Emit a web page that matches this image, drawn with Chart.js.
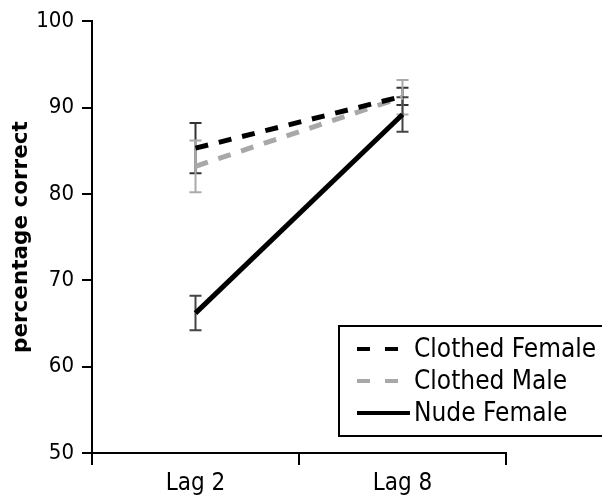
<!DOCTYPE html>
<html>
<head>
<meta charset="utf-8">
<script src="https://cdn.jsdelivr.net/npm/chart.js@4.4.0/dist/chart.umd.min.js"></script>
<style>
html, body { margin: 0; padding: 0; background: #fff; }
#wrap { width: 602px; height: 500px; }
</style>
</head>
<body>
<div id="wrap"><canvas id="myChart"></canvas></div>
<script>
var lags = ["Lag 2", "Lag 8"];
var clothedFemale = [85.3, 91.3];
var clothedMale = [83.2, 91.2];
var nudeFemale = [66.2, 89.2];
// half length of the error bars
var clothedFemaleErr = [2.9, 1.0];
var clothedMaleErr = [3.0, 2.0];
var nudeFemaleErr = [2.0, 2.0];
var yTicks = [50, 60, 70, 80, 90, 100];

var font = "'DejaVu Sans Condensed', 'Open Sans', sans-serif";
var titleFont = "'DejaVu Sans', Verdana, sans-serif";

var errorBars = {
	id: 'errorBars',
	beforeDatasetsDraw: function(chart) {
		var ctx = chart.ctx;
		var yScale = chart.scales.y;
		chart.data.datasets.forEach(function(ds, i) {
			var meta = chart.getDatasetMeta(i);
			ctx.save();
			ctx.strokeStyle = ds.errColor;
			ctx.lineWidth = 2;
			meta.data.forEach(function(pt, j) {
				var x = pt.x;
				var top = yScale.getPixelForValue(ds.data[j] + ds.err[j]);
				var bot = yScale.getPixelForValue(ds.data[j] - ds.err[j]);
				ctx.beginPath();
				ctx.moveTo(x, top); ctx.lineTo(x, bot);
				ctx.moveTo(x - 6, top); ctx.lineTo(x + 6, top);
				ctx.moveTo(x - 6, bot); ctx.lineTo(x + 6, bot);
				ctx.stroke();
			});
			ctx.restore();
		});
	}
};

var boxLegend = {
	id: 'boxLegend',
	afterDraw: function(chart) {
		var ctx = chart.ctx;
		ctx.save();
		ctx.strokeStyle = '#000';
		ctx.lineWidth = 2;
		ctx.strokeRect(339, 326, 270, 110);
		ctx.font = '26px ' + font;
		ctx.textBaseline = 'middle';
		chart.data.datasets.forEach(function(ds, i) {
			var y = 349 + i * 32;
			ctx.beginPath();
			ctx.strokeStyle = ds.borderColor;
			ctx.lineWidth = 4;
			ctx.setLineDash(ds.borderDash ? [13, 15] : []);
			ctx.moveTo(357, y);
			ctx.lineTo(410, y);
			ctx.stroke();
			ctx.setLineDash([]);
			ctx.fillStyle = '#000';
			ctx.fillText(ds.label, 414, y + 1);
		});
		ctx.restore();
	}
};

new Chart(document.getElementById('myChart'), {
	type: 'line',
	data: {
		labels: lags,
		datasets: [{
			label: "Clothed Female",
			data: clothedFemale,
			err: clothedFemaleErr,
			errColor: '#333',
			borderColor: '#000',
			borderWidth: 5,
			borderDash: [13, 11],
			pointRadius: 0
		}, {
			label: "Clothed Male",
			data: clothedMale,
			err: clothedMaleErr,
			errColor: '#aaa',
			borderColor: '#a8a8a8',
			borderWidth: 5,
			borderDash: [13, 11],
			pointRadius: 0
		}, {
			label: "Nude Female",
			data: nudeFemale,
			err: nudeFemaleErr,
			errColor: '#444',
			borderColor: '#000',
			borderWidth: 5,
			pointRadius: 0
		}]
	},
	options: {
		responsive: true,
		maintainAspectRatio: false,
		animation: false,
		layout: { padding: { left: 9, top: 17, right: 96, bottom: 0 } },
		plugins: { legend: { display: false }, tooltip: { enabled: false } },
		scales: {
			x: {
				offset: true,
				grid: { offset: true, drawOnChartArea: false, tickLength: 12, color: '#000', lineWidth: 2 },
				border: { color: '#000', width: 2 },
				ticks: { color: '#000', padding: 4, font: { family: font, size: 24 } },
				afterFit: function(scale) { scale.height = 47; }
			},
			y: {
				min: 50,
				max: 100,
				afterBuildTicks: function(scale) {
					scale.ticks = yTicks.map(function(v) { return { value: v }; });
				},
				grid: { drawOnChartArea: false, tickLength: 10, color: '#000', lineWidth: 2 },
				border: { color: '#000', width: 2 },
				ticks: { color: '#000', padding: 8, font: { family: font, size: 22 } },
				title: { display: true, text: 'percentage correct', color: '#000', padding: { top: 0, bottom: 0 }, font: { family: titleFont, size: 21.5, weight: 'bold' } },
				afterFit: function(scale) { scale.width = 83; }
			}
		}
	},
	plugins: [errorBars, boxLegend]
});
</script>
</body>
</html>
